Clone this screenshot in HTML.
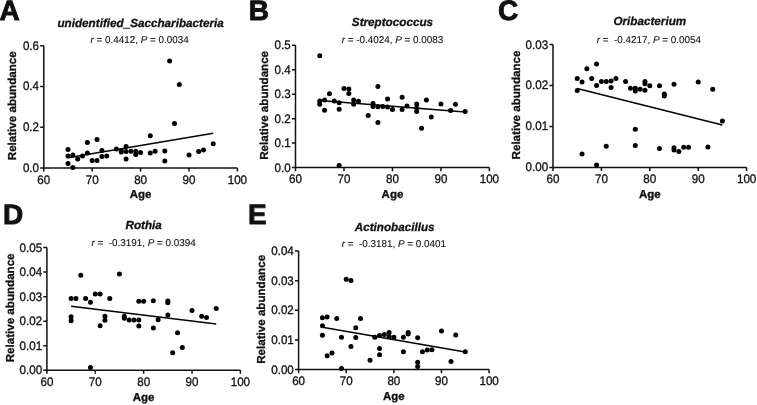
<!DOCTYPE html>
<html><head><meta charset="utf-8"><style>
html,body{margin:0;padding:0;background:#fff;}
svg{display:block;will-change:transform;}
text{font-family:"Liberation Sans", sans-serif;fill:#111;stroke:#111;text-rendering:geometricPrecision;}
</style></head><body>
<svg width="757" height="405" viewBox="0 0 757 405" stroke-width="0.3">
<rect width="757" height="405" fill="#fff"/>
<path d="M43.8 45.7V167.9H237.4" fill="none" stroke="#111" stroke-width="1.5"/>
<text transform="translate(39 171.8) scale(1 1.07)" text-anchor="end" font-size="11.6">0.0</text>
<text transform="translate(39 131.07) scale(1 1.07)" text-anchor="end" font-size="11.6">0.2</text>
<text transform="translate(39 90.33) scale(1 1.07)" text-anchor="end" font-size="11.6">0.4</text>
<text transform="translate(39 49.6) scale(1 1.07)" text-anchor="end" font-size="11.6">0.6</text>
<text transform="translate(43.8 183.6) scale(1 1.07)" text-anchor="middle" font-size="11.6">60</text>
<text transform="translate(92.2 183.6) scale(1 1.07)" text-anchor="middle" font-size="11.6">70</text>
<text transform="translate(140.6 183.6) scale(1 1.07)" text-anchor="middle" font-size="11.6">80</text>
<text transform="translate(189 183.6) scale(1 1.07)" text-anchor="middle" font-size="11.6">90</text>
<text transform="translate(237.4 183.6) scale(1 1.07)" text-anchor="middle" font-size="11.6">100</text>
<path d="M40.2 167.9H43.8M40.2 127.17H43.8M40.2 86.43H43.8M40.2 45.7H43.8M43.8 167.9V171.5M92.2 167.9V171.5M140.6 167.9V171.5M189 167.9V171.5M237.4 167.9V171.5" fill="none" stroke="#111" stroke-width="1.5"/>
<line x1="68" y1="157.8" x2="213.2" y2="133.2" stroke="#000" stroke-width="1.5"/>
<g fill="#000"><circle cx="68" cy="149.5" r="2.5"/><circle cx="68" cy="156" r="2.5"/><circle cx="68" cy="163.4" r="2.5"/><circle cx="72.84" cy="167.6" r="2.5"/><circle cx="72.84" cy="155" r="2.5"/><circle cx="77.68" cy="159" r="2.5"/><circle cx="82.52" cy="156" r="2.5"/><circle cx="87.36" cy="142.6" r="2.5"/><circle cx="87.36" cy="153" r="2.5"/><circle cx="92.2" cy="160.4" r="2.5"/><circle cx="97.04" cy="139.6" r="2.5"/><circle cx="97.04" cy="160.4" r="2.5"/><circle cx="101.88" cy="150.5" r="2.5"/><circle cx="101.88" cy="156.4" r="2.5"/><circle cx="106.72" cy="156" r="2.5"/><circle cx="116.4" cy="149" r="2.5"/><circle cx="121.24" cy="150.5" r="2.5"/><circle cx="121.24" cy="152" r="2.5"/><circle cx="126.08" cy="146.6" r="2.5"/><circle cx="126.08" cy="151.5" r="2.5"/><circle cx="126.08" cy="159" r="2.5"/><circle cx="130.92" cy="151.3" r="2.5"/><circle cx="135.76" cy="151.3" r="2.5"/><circle cx="135.76" cy="154.5" r="2.5"/><circle cx="140.6" cy="152.6" r="2.5"/><circle cx="150.28" cy="135.8" r="2.5"/><circle cx="150.28" cy="153" r="2.5"/><circle cx="155.12" cy="151.2" r="2.5"/><circle cx="164.8" cy="151" r="2.5"/><circle cx="164.8" cy="160.9" r="2.5"/><circle cx="169.64" cy="61.1" r="2.5"/><circle cx="174.48" cy="123.6" r="2.5"/><circle cx="179.32" cy="84.6" r="2.5"/><circle cx="189" cy="155" r="2.5"/><circle cx="198.68" cy="151.6" r="2.5"/><circle cx="203.52" cy="150" r="2.5"/><circle cx="213.2" cy="143.7" r="2.5"/></g>
<text x="-0.6" y="19.5" font-size="28" font-weight="bold" stroke-width="0.9">A</text>
<text x="140.6" y="198.2" text-anchor="middle" font-size="11.5" font-weight="bold">Age</text>
<text transform="translate(16.2 105.8) rotate(-90)" text-anchor="middle" font-size="11.6" font-weight="bold">Relative abundance</text>
<text x="140.6" y="26.6" text-anchor="middle" font-size="11.7" font-weight="bold" font-style="italic" stroke-width="0.3">unidentified_Saccharibacteria</text>
<text transform="translate(139.6 43.2)" text-anchor="middle" font-size="9.9" stroke-width="0.1"><tspan font-style="italic">r</tspan> = 0.4412, <tspan font-style="italic">P</tspan> = 0.0034</text>
<path d="M295.5 45.2V167.6H489.4" fill="none" stroke="#111" stroke-width="1.5"/>
<text transform="translate(290.7 171.5) scale(1 1.07)" text-anchor="end" font-size="11.6">0.0</text>
<text transform="translate(290.7 147.02) scale(1 1.07)" text-anchor="end" font-size="11.6">0.1</text>
<text transform="translate(290.7 122.54) scale(1 1.07)" text-anchor="end" font-size="11.6">0.2</text>
<text transform="translate(290.7 98.06) scale(1 1.07)" text-anchor="end" font-size="11.6">0.3</text>
<text transform="translate(290.7 73.58) scale(1 1.07)" text-anchor="end" font-size="11.6">0.4</text>
<text transform="translate(290.7 49.1) scale(1 1.07)" text-anchor="end" font-size="11.6">0.5</text>
<text transform="translate(295.5 183.3) scale(1 1.07)" text-anchor="middle" font-size="11.6">60</text>
<text transform="translate(343.98 183.3) scale(1 1.07)" text-anchor="middle" font-size="11.6">70</text>
<text transform="translate(392.45 183.3) scale(1 1.07)" text-anchor="middle" font-size="11.6">80</text>
<text transform="translate(440.92 183.3) scale(1 1.07)" text-anchor="middle" font-size="11.6">90</text>
<text transform="translate(489.4 183.3) scale(1 1.07)" text-anchor="middle" font-size="11.6">100</text>
<path d="M291.9 167.6H295.5M291.9 143.12H295.5M291.9 118.64H295.5M291.9 94.16H295.5M291.9 69.68H295.5M291.9 45.2H295.5M295.5 167.6V171.2M343.98 167.6V171.2M392.45 167.6V171.2M440.92 167.6V171.2M489.4 167.6V171.2" fill="none" stroke="#111" stroke-width="1.5"/>
<line x1="319.74" y1="100.5" x2="465.16" y2="112" stroke="#000" stroke-width="1.5"/>
<g fill="#000"><circle cx="319.74" cy="55.8" r="2.5"/><circle cx="319.74" cy="100.9" r="2.5"/><circle cx="319.74" cy="104.2" r="2.5"/><circle cx="324.58" cy="99.9" r="2.5"/><circle cx="324.58" cy="110.2" r="2.5"/><circle cx="329.43" cy="93.8" r="2.5"/><circle cx="334.28" cy="100.9" r="2.5"/><circle cx="339.13" cy="102.8" r="2.5"/><circle cx="339.13" cy="109.2" r="2.5"/><circle cx="339.13" cy="165.6" r="2.5"/><circle cx="343.98" cy="88.4" r="2.5"/><circle cx="348.82" cy="89" r="2.5"/><circle cx="348.82" cy="93.4" r="2.5"/><circle cx="353.67" cy="99.9" r="2.5"/><circle cx="353.67" cy="104.2" r="2.5"/><circle cx="358.52" cy="101.3" r="2.5"/><circle cx="368.21" cy="115.5" r="2.5"/><circle cx="373.06" cy="103.6" r="2.5"/><circle cx="373.06" cy="106.6" r="2.5"/><circle cx="377.91" cy="86.6" r="2.5"/><circle cx="377.91" cy="106.8" r="2.5"/><circle cx="377.91" cy="122.4" r="2.5"/><circle cx="382.75" cy="106.6" r="2.5"/><circle cx="387.6" cy="99" r="2.5"/><circle cx="387.6" cy="107" r="2.5"/><circle cx="392.45" cy="109.5" r="2.5"/><circle cx="402.14" cy="97.3" r="2.5"/><circle cx="402.14" cy="109.5" r="2.5"/><circle cx="406.99" cy="106" r="2.5"/><circle cx="416.69" cy="104" r="2.5"/><circle cx="416.69" cy="108" r="2.5"/><circle cx="416.69" cy="111.5" r="2.5"/><circle cx="421.53" cy="128.3" r="2.5"/><circle cx="426.38" cy="100" r="2.5"/><circle cx="431.23" cy="117" r="2.5"/><circle cx="440.92" cy="104" r="2.5"/><circle cx="450.62" cy="110.5" r="2.5"/><circle cx="455.47" cy="104.2" r="2.5"/><circle cx="465.16" cy="111.5" r="2.5"/></g>
<text x="248.7" y="19.5" font-size="28" font-weight="bold" stroke-width="0.9">B</text>
<text x="392.45" y="197.9" text-anchor="middle" font-size="11.5" font-weight="bold">Age</text>
<text transform="translate(267.9 105.4) rotate(-90)" text-anchor="middle" font-size="11.6" font-weight="bold">Relative abundance</text>
<text x="392.45" y="26" text-anchor="middle" font-size="11.7" font-weight="bold" font-style="italic" stroke-width="0.3">Streptococcus</text>
<text transform="translate(392.45 43)" text-anchor="middle" font-size="9.9" stroke-width="0.1"><tspan font-style="italic">r</tspan> = -0.4024, <tspan font-style="italic">P</tspan> = 0.0083</text>
<path d="M553 44.6V167.4H746.6" fill="none" stroke="#111" stroke-width="1.5"/>
<text transform="translate(548.2 171.3) scale(1 1.07)" text-anchor="end" font-size="11.6">0.00</text>
<text transform="translate(548.2 130.37) scale(1 1.07)" text-anchor="end" font-size="11.6">0.01</text>
<text transform="translate(548.2 89.43) scale(1 1.07)" text-anchor="end" font-size="11.6">0.02</text>
<text transform="translate(548.2 48.5) scale(1 1.07)" text-anchor="end" font-size="11.6">0.03</text>
<text transform="translate(553 183.1) scale(1 1.07)" text-anchor="middle" font-size="11.6">60</text>
<text transform="translate(601.4 183.1) scale(1 1.07)" text-anchor="middle" font-size="11.6">70</text>
<text transform="translate(649.8 183.1) scale(1 1.07)" text-anchor="middle" font-size="11.6">80</text>
<text transform="translate(698.2 183.1) scale(1 1.07)" text-anchor="middle" font-size="11.6">90</text>
<text transform="translate(746.6 183.1) scale(1 1.07)" text-anchor="middle" font-size="11.6">100</text>
<path d="M549.4 167.4H553M549.4 126.47H553M549.4 85.53H553M549.4 44.6H553M553 167.4V171M601.4 167.4V171M649.8 167.4V171M698.2 167.4V171M746.6 167.4V171" fill="none" stroke="#111" stroke-width="1.5"/>
<line x1="577.2" y1="88.4" x2="722.4" y2="125.1" stroke="#000" stroke-width="1.5"/>
<g fill="#000"><circle cx="577.2" cy="78.5" r="2.5"/><circle cx="577.2" cy="90.4" r="2.5"/><circle cx="582.04" cy="81.9" r="2.5"/><circle cx="582.04" cy="154" r="2.5"/><circle cx="586.88" cy="68.7" r="2.5"/><circle cx="591.72" cy="78.5" r="2.5"/><circle cx="596.56" cy="64.1" r="2.5"/><circle cx="596.56" cy="85.5" r="2.5"/><circle cx="596.56" cy="164.9" r="2.5"/><circle cx="601.4" cy="81.5" r="2.5"/><circle cx="606.24" cy="81.5" r="2.5"/><circle cx="606.24" cy="146.2" r="2.5"/><circle cx="611.08" cy="81.1" r="2.5"/><circle cx="611.08" cy="87.4" r="2.5"/><circle cx="615.92" cy="78.5" r="2.5"/><circle cx="625.6" cy="81.4" r="2.5"/><circle cx="630.44" cy="88.2" r="2.5"/><circle cx="635.28" cy="88.3" r="2.5"/><circle cx="635.28" cy="91" r="2.5"/><circle cx="635.28" cy="129.3" r="2.5"/><circle cx="635.28" cy="145.6" r="2.5"/><circle cx="640.12" cy="89.2" r="2.5"/><circle cx="644.96" cy="81.6" r="2.5"/><circle cx="644.96" cy="83.8" r="2.5"/><circle cx="644.96" cy="90.2" r="2.5"/><circle cx="649.8" cy="85.7" r="2.5"/><circle cx="659.48" cy="85.7" r="2.5"/><circle cx="659.48" cy="148.4" r="2.5"/><circle cx="664.32" cy="94" r="2.5"/><circle cx="664.32" cy="96" r="2.5"/><circle cx="674" cy="84.3" r="2.5"/><circle cx="674" cy="147.8" r="2.5"/><circle cx="674" cy="150" r="2.5"/><circle cx="678.84" cy="151.6" r="2.5"/><circle cx="683.68" cy="147.3" r="2.5"/><circle cx="688.52" cy="147.3" r="2.5"/><circle cx="698.2" cy="82.1" r="2.5"/><circle cx="707.88" cy="147.1" r="2.5"/><circle cx="712.72" cy="89.2" r="2.5"/><circle cx="722.4" cy="121.1" r="2.5"/></g>
<text x="498" y="19.5" font-size="28" font-weight="bold" stroke-width="0.9">C</text>
<text x="649.8" y="197.7" text-anchor="middle" font-size="11.5" font-weight="bold">Age</text>
<text transform="translate(519.6 105) rotate(-90)" text-anchor="middle" font-size="11.6" font-weight="bold">Relative abundance</text>
<text x="649.8" y="24.8" text-anchor="middle" font-size="11.7" font-weight="bold" font-style="italic" stroke-width="0.3">Oribacterium</text>
<text transform="translate(648.8 42.9)" text-anchor="middle" font-size="9.9" stroke-width="0.1"><tspan font-style="italic">r</tspan> =&#160;&#160;-0.4217, <tspan font-style="italic">P</tspan> = 0.0054</text>
<path d="M46.9 247.6V370.2H240.4" fill="none" stroke="#111" stroke-width="1.5"/>
<text transform="translate(42.1 374.1) scale(1 1.07)" text-anchor="end" font-size="11.6">0.00</text>
<text transform="translate(42.1 349.58) scale(1 1.07)" text-anchor="end" font-size="11.6">0.01</text>
<text transform="translate(42.1 325.06) scale(1 1.07)" text-anchor="end" font-size="11.6">0.02</text>
<text transform="translate(42.1 300.54) scale(1 1.07)" text-anchor="end" font-size="11.6">0.03</text>
<text transform="translate(42.1 276.02) scale(1 1.07)" text-anchor="end" font-size="11.6">0.04</text>
<text transform="translate(42.1 251.5) scale(1 1.07)" text-anchor="end" font-size="11.6">0.05</text>
<text transform="translate(46.9 385.9) scale(1 1.07)" text-anchor="middle" font-size="11.6">60</text>
<text transform="translate(95.28 385.9) scale(1 1.07)" text-anchor="middle" font-size="11.6">70</text>
<text transform="translate(143.65 385.9) scale(1 1.07)" text-anchor="middle" font-size="11.6">80</text>
<text transform="translate(192.03 385.9) scale(1 1.07)" text-anchor="middle" font-size="11.6">90</text>
<text transform="translate(240.4 385.9) scale(1 1.07)" text-anchor="middle" font-size="11.6">100</text>
<path d="M43.3 370.2H46.9M43.3 345.68H46.9M43.3 321.16H46.9M43.3 296.64H46.9M43.3 272.12H46.9M43.3 247.6H46.9M46.9 370.2V373.8M95.28 370.2V373.8M143.65 370.2V373.8M192.03 370.2V373.8M240.4 370.2V373.8" fill="none" stroke="#111" stroke-width="1.5"/>
<line x1="71.09" y1="306.2" x2="216.21" y2="324" stroke="#000" stroke-width="1.5"/>
<g fill="#000"><circle cx="71.09" cy="298.5" r="2.5"/><circle cx="71.09" cy="316.7" r="2.5"/><circle cx="71.09" cy="320.7" r="2.5"/><circle cx="75.92" cy="298.5" r="2.5"/><circle cx="80.76" cy="275.2" r="2.5"/><circle cx="85.6" cy="298.5" r="2.5"/><circle cx="90.44" cy="302.2" r="2.5"/><circle cx="90.44" cy="367.6" r="2.5"/><circle cx="95.28" cy="294.1" r="2.5"/><circle cx="100.11" cy="294.1" r="2.5"/><circle cx="100.11" cy="325.7" r="2.5"/><circle cx="104.95" cy="316.3" r="2.5"/><circle cx="104.95" cy="320.3" r="2.5"/><circle cx="109.79" cy="298.5" r="2.5"/><circle cx="119.46" cy="274" r="2.5"/><circle cx="124.3" cy="316.3" r="2.5"/><circle cx="124.3" cy="318.2" r="2.5"/><circle cx="129.14" cy="320" r="2.5"/><circle cx="133.97" cy="320" r="2.5"/><circle cx="138.81" cy="301.2" r="2.5"/><circle cx="138.81" cy="320" r="2.5"/><circle cx="138.81" cy="325.9" r="2.5"/><circle cx="143.65" cy="301.2" r="2.5"/><circle cx="153.32" cy="300.7" r="2.5"/><circle cx="153.32" cy="327.9" r="2.5"/><circle cx="158.16" cy="319.7" r="2.5"/><circle cx="167.84" cy="301.1" r="2.5"/><circle cx="167.84" cy="302.8" r="2.5"/><circle cx="167.84" cy="315.1" r="2.5"/><circle cx="172.68" cy="352.8" r="2.5"/><circle cx="177.51" cy="332.7" r="2.5"/><circle cx="182.35" cy="347.5" r="2.5"/><circle cx="192.03" cy="310.6" r="2.5"/><circle cx="201.7" cy="316.3" r="2.5"/><circle cx="206.54" cy="317.5" r="2.5"/><circle cx="216.21" cy="308.5" r="2.5"/></g>
<text x="3" y="223.8" font-size="28" font-weight="bold" stroke-width="0.9">D</text>
<text x="143.65" y="400.5" text-anchor="middle" font-size="11.5" font-weight="bold">Age</text>
<text transform="translate(13.5 307.9) rotate(-90)" text-anchor="middle" font-size="11.6" font-weight="bold">Relative abundance</text>
<text x="143.65" y="228.6" text-anchor="middle" font-size="11.7" font-weight="bold" font-style="italic" stroke-width="0.3">Rothia</text>
<text transform="translate(143.65 245.5)" text-anchor="middle" font-size="9.9" stroke-width="0.1"><tspan font-style="italic">r</tspan> =&#160;&#160;-0.3191, <tspan font-style="italic">P</tspan> = 0.0394</text>
<path d="M298.6 251.1V369.6H489.1" fill="none" stroke="#111" stroke-width="1.5"/>
<text transform="translate(293.8 373.5) scale(1 1.07)" text-anchor="end" font-size="11.6">0.00</text>
<text transform="translate(293.8 343.88) scale(1 1.07)" text-anchor="end" font-size="11.6">0.01</text>
<text transform="translate(293.8 314.25) scale(1 1.07)" text-anchor="end" font-size="11.6">0.02</text>
<text transform="translate(293.8 284.62) scale(1 1.07)" text-anchor="end" font-size="11.6">0.03</text>
<text transform="translate(293.8 255) scale(1 1.07)" text-anchor="end" font-size="11.6">0.04</text>
<text transform="translate(298.6 385.3) scale(1 1.07)" text-anchor="middle" font-size="11.6">60</text>
<text transform="translate(346.23 385.3) scale(1 1.07)" text-anchor="middle" font-size="11.6">70</text>
<text transform="translate(393.85 385.3) scale(1 1.07)" text-anchor="middle" font-size="11.6">80</text>
<text transform="translate(441.48 385.3) scale(1 1.07)" text-anchor="middle" font-size="11.6">90</text>
<text transform="translate(489.1 385.3) scale(1 1.07)" text-anchor="middle" font-size="11.6">100</text>
<path d="M295 369.6H298.6M295 339.98H298.6M295 310.35H298.6M295 280.73H298.6M295 251.1H298.6M298.6 369.6V373.2M346.23 369.6V373.2M393.85 369.6V373.2M441.48 369.6V373.2M489.1 369.6V373.2" fill="none" stroke="#111" stroke-width="1.5"/>
<line x1="322.41" y1="327.3" x2="465.29" y2="352.1" stroke="#000" stroke-width="1.5"/>
<g fill="#000"><circle cx="322.41" cy="317.7" r="2.5"/><circle cx="322.41" cy="325.7" r="2.5"/><circle cx="322.41" cy="335.2" r="2.5"/><circle cx="327.18" cy="316.9" r="2.5"/><circle cx="327.18" cy="355.8" r="2.5"/><circle cx="331.94" cy="353" r="2.5"/><circle cx="336.7" cy="318.4" r="2.5"/><circle cx="341.46" cy="337.3" r="2.5"/><circle cx="341.46" cy="368.6" r="2.5"/><circle cx="346.23" cy="279.3" r="2.5"/><circle cx="350.99" cy="280.4" r="2.5"/><circle cx="350.99" cy="346.6" r="2.5"/><circle cx="355.75" cy="327.7" r="2.5"/><circle cx="355.75" cy="337.6" r="2.5"/><circle cx="360.51" cy="318.4" r="2.5"/><circle cx="370.04" cy="360.3" r="2.5"/><circle cx="374.8" cy="337.3" r="2.5"/><circle cx="379.56" cy="335.4" r="2.5"/><circle cx="379.56" cy="348.6" r="2.5"/><circle cx="379.56" cy="354.7" r="2.5"/><circle cx="384.33" cy="334.4" r="2.5"/><circle cx="389.09" cy="332.5" r="2.5"/><circle cx="389.09" cy="336.5" r="2.5"/><circle cx="393.85" cy="337.3" r="2.5"/><circle cx="403.38" cy="337.3" r="2.5"/><circle cx="403.38" cy="351.7" r="2.5"/><circle cx="408.14" cy="332.5" r="2.5"/><circle cx="408.14" cy="334.1" r="2.5"/><circle cx="417.66" cy="337.8" r="2.5"/><circle cx="417.66" cy="362.2" r="2.5"/><circle cx="417.66" cy="366.5" r="2.5"/><circle cx="422.43" cy="351.7" r="2.5"/><circle cx="427.19" cy="350.1" r="2.5"/><circle cx="431.95" cy="349.8" r="2.5"/><circle cx="441.48" cy="330.9" r="2.5"/><circle cx="451" cy="361.4" r="2.5"/><circle cx="455.76" cy="334.9" r="2.5"/><circle cx="465.29" cy="351.7" r="2.5"/></g>
<text x="248" y="223.8" font-size="28" font-weight="bold" stroke-width="0.9">E</text>
<text x="393.85" y="399.9" text-anchor="middle" font-size="11.5" font-weight="bold">Age</text>
<text transform="translate(265.2 309.35) rotate(-90)" text-anchor="middle" font-size="11.6" font-weight="bold">Relative abundance</text>
<text x="394.65" y="231.1" text-anchor="middle" font-size="11.7" font-weight="bold" font-style="italic" stroke-width="0.3">Actinobacillus</text>
<text transform="translate(393.85 246.8)" text-anchor="middle" font-size="9.9" stroke-width="0.1"><tspan font-style="italic">r</tspan> =&#160;&#160;-0.3181, <tspan font-style="italic">P</tspan> = 0.0401</text>
</svg>
</body></html>
